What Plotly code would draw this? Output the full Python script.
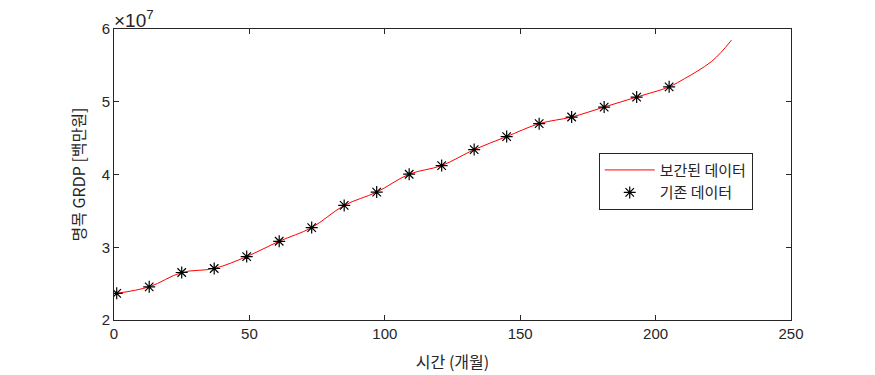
import plotly.graph_objects as go

# original data (months, nominal GRDP in million won)
months = [1, 13, 25, 37, 49, 61, 73, 85, 97, 109, 121, 133, 145, 157, 169, 181, 193, 205]
grdp = [2.366e7, 2.456e7, 2.653e7, 2.708e7, 2.872e7, 3.082e7, 3.270e7, 3.575e7, 3.758e7,
        4.004e7, 4.123e7, 4.342e7, 4.521e7, 4.699e7, 4.790e7, 4.927e7, 5.064e7, 5.205e7]

# interpolated curve (incl. extrapolated tail)
interp_x = months + [210.7, 215.6, 220.5, 224.2, 228]
interp_y = grdp + [5.318e7, 5.425e7, 5.548e7, 5.680e7, 5.847e7]

xticks = [0, 50, 100, 150, 200, 250]
yticks = [2e7, 3e7, 4e7, 5e7, 6e7]
yticktext = ["2", "3", "4", "5", "6"]

kfont = "Noto Sans CJK KR"
tfont = "Liberation Sans, Arial"

fig = go.Figure()
fig.add_trace(go.Scatter(x=interp_x, y=interp_y, mode="lines", name="보간된 데이터",
                         line=dict(color="red", width=1, shape="spline", smoothing=1.0)))
fig.add_trace(go.Scatter(x=months, y=grdp, mode="markers", name="기존 데이터",
                         marker=dict(symbol="asterisk-open", size=10, color="black",
                                     line=dict(color="black", width=1.2))))

axis_common = dict(showgrid=False, zeroline=False, showline=True, linecolor="#262626",
                   linewidth=1, mirror="ticks", ticks="inside", ticklen=5, tickcolor="#262626",
                   automargin=False,
                   tickfont=dict(family=tfont, size=15, color="#262626"))

fig.update_layout(
    width=875, height=375,
    margin=dict(l=114, r=84, t=29, b=55),
    paper_bgcolor="white", plot_bgcolor="white",
    xaxis=dict(range=[0, 250], tickvals=xticks,
               title=dict(text="시간 (개월)", font=dict(family=kfont, size=16, color="#262626"),
                          standoff=15),
               **axis_common),
    yaxis=dict(range=[2e7, 6e7], tickvals=yticks, ticktext=yticktext,
               title=dict(text="명목 GRDP [백만원]", font=dict(family=kfont, size=16, color="#262626"),
                          standoff=12),
               **axis_common),
    legend=dict(x=0.716, y=0.575, xanchor="left", yanchor="top",
                bgcolor="white", bordercolor="#262626", borderwidth=1,
                font=dict(family=kfont, size=15, color="#262626"),
                tracegroupgap=0, itemwidth=50),
    showlegend=True,
    annotations=[dict(text="×10<sup>7</sup>", xref="paper", yref="paper", x=0, y=1,
                      xanchor="left", yanchor="bottom", showarrow=False,
                      font=dict(family=tfont, size=19, color="#262626"), yshift=-4, xshift=-2)],
)

fig.write_html("out.html")
